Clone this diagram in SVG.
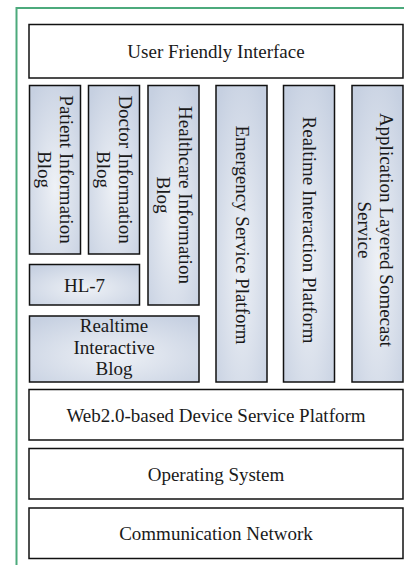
<svg xmlns="http://www.w3.org/2000/svg" width="404" height="565" viewBox="0 0 404 565">
<defs>
<radialGradient id="blue" cx="50%" cy="60%" r="70%">
<stop offset="0" stop-color="#eef1f6"/>
<stop offset="1" stop-color="#c6d0e1"/>
</radialGradient>
<style>
.w{fill:#fff;stroke:#111;stroke-width:1.5}
.b{fill:url(#blue);stroke:#111;stroke-width:1.5}
text{font-family:"Liberation Serif","Times New Roman",serif;font-size:19px;fill:#1a1a1a;text-anchor:middle}
.frame{fill:none;stroke:#4caa7c;stroke-width:2}
</style>
</defs>
<path class="frame" d="M404 8 H16.5 V565"/>
<g id="user-friendly-interface">
<rect class="w" x="29" y="24.5" width="374" height="53.5"/>
<text x="216" y="58">User Friendly Interface</text>
</g>
<g id="patient-information-blog">
<rect class="b" x="29.5" y="85.5" width="51" height="168.5"/>
<g transform="translate(55 169.5) rotate(90)"><text y="-4.5">Patient Information</text><text y="17.5">Blog</text></g>
</g>
<g id="doctor-information-blog">
<rect class="b" x="88.5" y="85.5" width="51" height="168.5"/>
<g transform="translate(114 169.5) rotate(90)"><text y="-4.5">Doctor Information</text><text y="17.5">Blog</text></g>
</g>
<g id="healthcare-information-blog">
<rect class="b" x="148" y="85.5" width="51" height="219.5"/>
<g transform="translate(173.5 195) rotate(90)"><text y="-5">Healthcare Information</text><text y="17">Blog</text></g>
</g>
<g id="hl-7">
<rect class="b" x="29.5" y="264.5" width="110" height="40.5"/>
<text x="84.5" y="291.5">HL-7</text>
</g>
<g id="realtime-interactive-blog">
<rect class="b" x="29.5" y="316" width="169.5" height="66"/>
<text x="114" y="332">Realtime</text>
<text x="114" y="353.5">Interactive</text>
<text x="114" y="375">Blog</text>
</g>
<g id="emergency-service-platform">
<rect class="b" x="216" y="85.5" width="51" height="296.5"/>
<g transform="translate(241.5 235) rotate(90)"><text y="5.5">Emergency Service Platform</text></g>
</g>
<g id="realtime-interaction-platform">
<rect class="b" x="283.5" y="85.5" width="51" height="296.5"/>
<g transform="translate(309 230) rotate(90)"><text y="6.5">Realtime Interaction Platform</text></g>
</g>
<g id="application-layered-somecast-service">
<rect class="b" x="352" y="85.5" width="51" height="296.5"/>
<g transform="translate(377.5 230) rotate(90)"><text y="-2.5">Application Layered Somecast</text><text y="20">Service</text></g>
</g>
<g id="web20-device-service-platform">
<rect class="w" x="29" y="389.5" width="374" height="50.5"/>
<text x="216" y="421.5">Web2.0-based Device Service Platform</text>
</g>
<g id="operating-system">
<rect class="w" x="29" y="448.5" width="374" height="50.5"/>
<text x="216" y="481">Operating System</text>
</g>
<g id="communication-network">
<rect class="w" x="29" y="508" width="374" height="50.5"/>
<text x="216" y="539.5">Communication Network</text>
</g>
<g id="connectors"/>
</svg>
